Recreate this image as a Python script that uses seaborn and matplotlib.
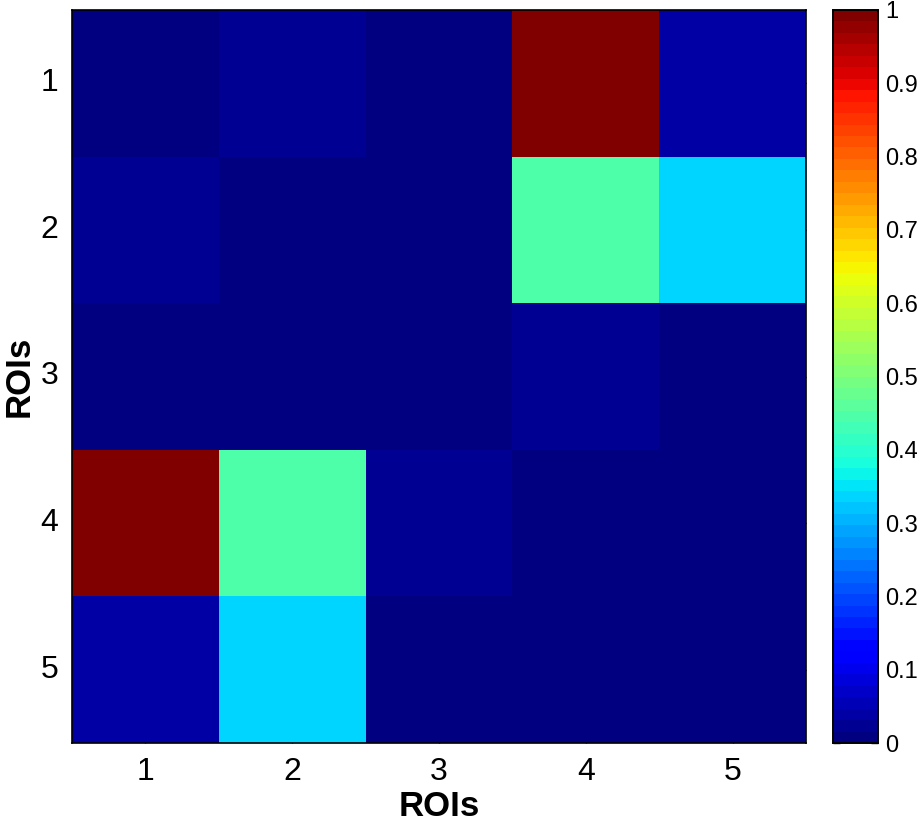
import seaborn as sns
import pandas as pd
import numpy as np
import matplotlib.pyplot as plt

rois = ["1", "2", "3", "4", "5"]
row1 = [0.00, 0.02, 0.00, 1.00, 0.04]
row2 = [0.03, 0.00, 0.00, 0.45, 0.33]
row3 = [0.00, 0.00, 0.00, 0.03, 0.00]
row4 = [1.00, 0.45, 0.03, 0.00, 0.00]
row5 = [0.04, 0.33, 0.00, 0.00, 0.00]
cbar_ticks = [0, 0.1, 0.2, 0.3, 0.4, 0.5, 0.6, 0.7, 0.8, 0.9, 1]
cbar_labels = ["0", "0.1", "0.2", "0.3", "0.4", "0.5", "0.6", "0.7", "0.8", "0.9", "1"]

df = pd.DataFrame([row1, row2, row3, row4, row5], index=rois, columns=rois)

sns.set_style("white")
plt.rcParams['font.family'] = ['Liberation Sans', 'DejaVu Sans']
plt.rcParams.update({"text.color": "black", "axes.labelcolor": "black",
                     "xtick.color": "black", "ytick.color": "black",
                     "axes.edgecolor": "black"})

fig = plt.figure(figsize=(9.22, 8.24), dpi=100)
ax = fig.add_axes([72 / 922, 1 - 743 / 824, 734 / 922, 733 / 824])
cax = fig.add_axes([833 / 922, 1 - 743 / 824, 45 / 922, 733 / 824])

cmap = plt.get_cmap("jet", 64)
sns.heatmap(df, ax=ax, cbar_ax=cax, cmap=cmap, vmin=0, vmax=1,
            linewidths=0, cbar_kws={"ticks": cbar_ticks})

ax.set_xlabel("ROIs", fontsize=25, fontweight="bold", labelpad=2)
ax.set_ylabel("ROIs", fontsize=25, fontweight="bold")
ax.yaxis.set_label_coords(-0.05, 0.5)
ax.tick_params(axis="both", labelsize=23, direction="in", length=7, width=1,
               top=True, right=True, left=True, bottom=True, pad=10,
               colors="black")
ax.set_yticklabels(rois, rotation=0)
ax.set_xticklabels(rois, rotation=0)
for s in ax.spines.values():
    s.set_visible(True)
    s.set_linewidth(1.2)
    s.set_color("black")

cax.tick_params(labelsize=17, direction="in", length=5, width=1,
                left=True, right=True, pad=5, colors="black")
cax.set_yticklabels(cbar_labels)
for s in cax.spines.values():
    s.set_visible(True)
    s.set_linewidth(1.2)
    s.set_color("black")

fig.savefig("out.png", dpi=100)
